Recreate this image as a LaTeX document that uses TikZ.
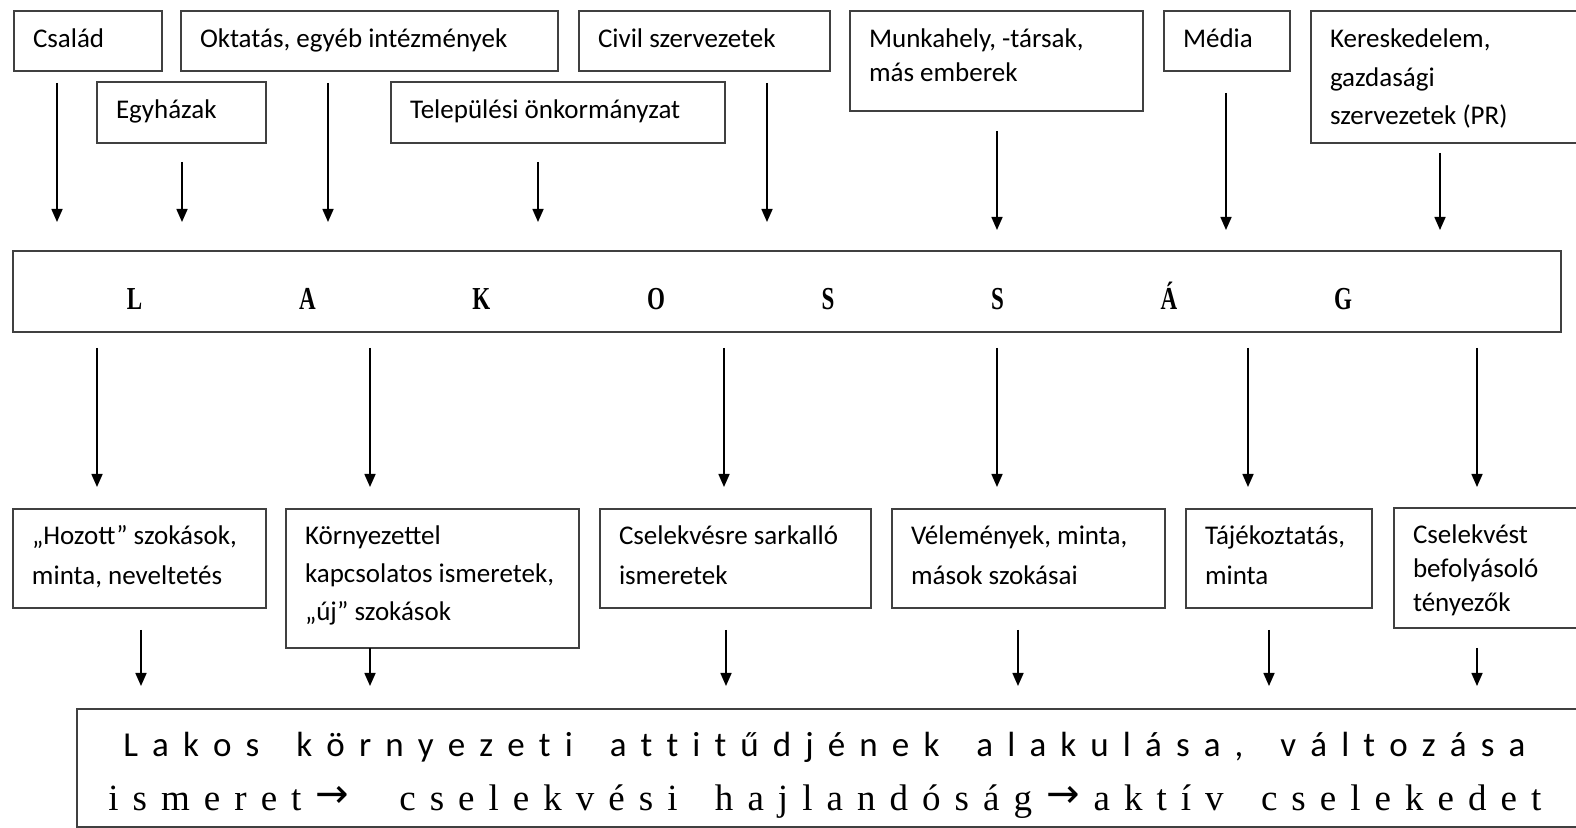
\documentclass[tikz,border=0pt]{standalone}
\usepackage{fontspec}
\usepackage{graphicx}
\setmainfont{Carlito}
\newfontfamily\serifb{Liberation Serif}
\newfontfamily\arrowf{DejaVu Sans}
\usetikzlibrary{calc,arrows.meta}
\tikzset{
  boxst/.style={draw=black!75, line width=1pt, anchor=north west, inner sep=0pt, outer sep=0pt,
    font=\fontsize{13.5pt}{17pt}\selectfont, text=black},
  bigbox/.style={draw=black!75, line width=1pt, anchor=north west, inner sep=0pt, outer sep=0pt},
  arr/.style={line width=0.8pt, draw=black, -{Triangle[width=5.5pt,length=6.5pt]}},
}
\newcommand\bx[8]{%
 \node[boxst] (#1) at (#2,#3) {\parbox[t][\dimexpr 1pt*\numexpr #5-#3\relax/2\relax][t]{\dimexpr 1pt*\numexpr #4-#2\relax/2\relax}{\baselineskip=#7\relax\lineskiplimit=-100pt\relax\parindent=0pt\relax\leftskip=9.5pt\relax\rule{0pt}{#6}#8\par}};}
\newcommand\conn[5]{\draw[arr] ($(#1,0 |- #2.south)+(0,#3)$) -- ($(#1,0 |- #4.north)+(0,-#5)$);}
\def\sw#1{\swB#1\relax}
\def\swB#1{#1\swC}
\def\swC#1{\ifx\relax#1\else\hskip0pt plus 1fil\relax#1\expandafter\swC\fi}
\def\wg{\hskip 0.25em plus 2fil\relax}
\def\lg{\hskip 0pt plus 1fil\relax}
\begin{document}
\begin{tikzpicture}[x=0.5pt,y=-0.5pt]
\useasboundingbox (0,0) rectangle (1576,828);
\fill[white] (0,0) rectangle (1576,828);
\clip (0,0) rectangle (1576,828);
% top row
\bx{csalad}{14}{11}{162}{71}{18.5pt}{17pt}{Család}
\bx{oktatas}{181}{11}{558}{71}{18.5pt}{17pt}{\mbox{Oktatás, egyéb intézmények}}
\bx{civil}{579}{11}{830}{71}{18.5pt}{17pt}{\mbox{Civil szervezetek}}
\bx{munka}{850}{11}{1143}{111}{18.5pt}{17pt}{\mbox{Munkahely, -társak,}\\\mbox{más emberek}}
\bx{media}{1164}{11}{1290}{71}{18.5pt}{17pt}{Média}
\bx{keres}{1311}{11}{1600}{143}{18.5pt}{19.25pt}{Kereskedelem,\\gazdasági\\\mbox{szervezetek (PR)}}
\bx{egyhaz}{97}{82}{266}{143}{18.5pt}{17pt}{Egyházak}
\bx{telep}{391}{82}{725}{143}{18.5pt}{17pt}{\mbox{Települési önkormányzat}}
% LAKOSSAG
\node[bigbox, minimum width=774pt, minimum height=40.5pt, text height=0pt, text depth=0pt] (lak) at (13,251)
  {\makebox[774pt][l]{\hspace*{57pt}\raisebox{-9.25pt}{\scalebox{0.72}[1]{\serifb\bfseries\fontsize{16pt}{16pt}\selectfont\makebox[850.7pt][s]{L\lg A\lg K\lg O\lg S\lg S\lg Á\lg G}}}}};
% third row
\bx{hozott}{13}{509}{266}{608}{18pt}{20pt}{\mbox{„Hozott” szokások,}\\\mbox{minta, neveltetés}}
\bx{korny}{286}{509}{579}{648}{18pt}{19pt}{Környezettel\\\mbox{kapcsolatos ismeretek,}\\\mbox{„új” szokások}}
\bx{cselre}{600}{509}{871}{608}{18pt}{20pt}{\mbox{Cselekvésre sarkalló}\\ismeretek}
\bx{velem}{892}{509}{1165}{608}{18pt}{20pt}{\mbox{Vélemények, minta,}\\\mbox{mások szokásai}}
\bx{tajek}{1186}{509}{1372}{608}{18pt}{20pt}{\mbox{Tájékoztatás,}\\minta}
\bx{cselt}{1394}{508}{1600}{628}{18pt}{17pt}{Cselekvést\\befolyásoló\\tényezők}
% bottom box
\node[bigbox, minimum width=770pt, minimum height=59pt] (att) at (77,709) {};
\node[anchor=base west, inner sep=0pt] (line1) at (123,756)
  {\fontsize{17.5pt}{20pt}\selectfont\makebox[701pt][s]{\sw{Lakos}\wg\sw{környezeti}\wg\sw{attitűdjének}\wg\sw{alakulása,}\wg\sw{változása}}};
\node[anchor=base west, inner sep=0pt] (line2) at (108,810)
  {\serifb\fontsize{18.5pt}{20pt}\selectfont\makebox[716.5pt][s]{\sw{ismeret}\lg\raisebox{1.5pt}{\arrowf\fontsize{20pt}{20pt}\selectfont →}\hskip 0.6em plus 2fil\relax\sw{cselekvési}\wg\sw{hajlandóság}\lg\raisebox{1.5pt}{\arrowf\fontsize{20pt}{20pt}\selectfont →}\lg\sw{aktív}\wg\sw{cselekedet}}};
% arrows top
\conn{57}{csalad}{12}{lak}{29}
\conn{182}{egyhaz}{19}{lak}{29}
\conn{328}{oktatas}{12}{lak}{29}
\conn{538}{telep}{19}{lak}{29}
\conn{767}{civil}{12}{lak}{29}
\conn{997}{munka}{20}{lak}{21}
\conn{1226}{media}{22}{lak}{21}
\conn{1440}{keres}{10}{lak}{21}
% arrows middle
\conn{97}{lak}{16}{hozott}{22}
\conn{370}{lak}{16}{korny}{22}
\conn{724}{lak}{16}{cselre}{22}
\conn{997}{lak}{16}{velem}{22}
\conn{1248}{lak}{16}{tajek}{22}
\conn{1477}{lak}{16}{cselt}{21}
% arrows bottom
\conn{141}{hozott}{22}{att}{23}
\conn{370}{korny}{0}{att}{23}
\conn{726}{cselre}{22}{att}{23}
\conn{1018}{velem}{22}{att}{23}
\conn{1269}{tajek}{22}{att}{23}
\conn{1477}{cselt}{20}{att}{23}
\end{tikzpicture}
\end{document}
